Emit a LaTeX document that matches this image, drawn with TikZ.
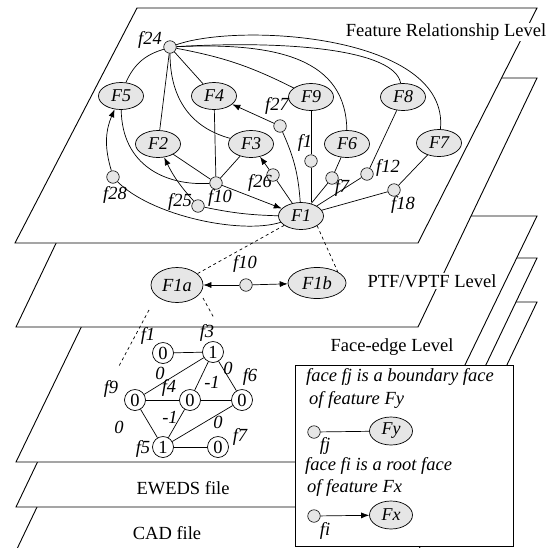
\documentclass[tikz,border=0pt]{standalone}
\usepackage{fontspec}
\setmainfont{Liberation Serif}
\usetikzlibrary{arrows.meta}
\usetikzlibrary{shapes.geometric}
\usetikzlibrary{math}
\definecolor{fgray}{RGB}{230,230,230}

\begin{document}
\begin{tikzpicture}[x=1pt,y=-1pt,
  font=\fontsize{18.5}{21}\selectfont,
  layer/.style={draw,fill=white,line width=0.9pt},
  feat/.style={ellipse,draw,fill=fgray,line width=0.7pt,minimum width=45pt,minimum height=27pt,inner sep=0pt,font=\fontsize{18}{20}\selectfont\itshape},
  face/.style={circle,draw,fill=fgray,line width=0.6pt,minimum size=12.5pt,inner sep=0pt},
  fnum/.style={circle,draw,fill=white,line width=0.7pt,minimum size=21pt,inner sep=0pt},
  lbl/.style={inner sep=0pt,font=\fontsize{18.5}{21}\selectfont\itshape},
  link/.style={line width=0.7pt},
  arr/.style={line width=0.7pt,-{Latex[length=8pt,width=6pt]}},
]
\tikzmath{
\xl = 16;
\xr = 418;
\dx = 119;
}
\useasboundingbox (0,0) rectangle (554,547);

% layers, back to front
\filldraw[layer] (\xl,551) -- (\xl+\dx,302) -- (\xr+\dx,302) -- (\xr,551) -- cycle;
\filldraw[layer] (\xl,507) -- (\xl+\dx,258) -- (\xr+\dx,258) -- (\xr,507) -- cycle;
\filldraw[layer] (\xl,462) -- (\xl+\dx,216) -- (\xr+\dx,216) -- (\xr,462) -- cycle;
\filldraw[layer] (\xl,327) -- (\xl+\dx,78) -- (\xr+\dx,78) -- (\xr,327) -- cycle;
\filldraw[layer] (15,243) -- (137,8) -- (537,8) -- (\xr,243) -- cycle;

\node[fill=white,inner sep=1pt] (lvlfr) at (446,32) {Feature Relationship Level};
\node[fill=white,inner sep=1pt] (lvlptf) at (432,281) {PTF/VPTF Level};
\node (lvlfe) at (392,347) {Face-edge Level};
\node (lvlew) at (183,488) {EWEDS file};
\node (lvlcad) at (167,533) {CAD file};

% feature relationship level
\node[feat] (F5) at (121,96) {F5};
\node[feat] (F4) at (214,96) {F4};
\node[feat] (F9) at (311,97) {F9};
\node[feat] (F8) at (403,97) {F8};
\node[feat] (F2) at (158,144) {F2};
\node[feat] (F3) at (251,144) {F3};
\node[feat] (F6) at (347,144) {F6};
\node[feat] (F7) at (439,143) {F7};
\node[feat] (F1) at (301,216) {F1};

\node[face] (f24) at (170,47) {};
\node[face] (f27) at (280,126) {};
\node[face] (f1) at (311,161) {};
\node[face] (f7) at (332,178) {};
\node[face] (f12) at (367,174) {};
\node[face] (f18) at (394,190) {};
\node[face] (f26) at (273,175) {};
\node[face] (f10) at (216,183) {};
\node[face] (f25) at (198,206) {};
\node[face] (f28) at (113,177) {};

\node[lbl] (l24) at (150,40) {f24};
\node[lbl] (l27) at (277,106) {f27};
\node[lbl] (l1) at (305,143) {f1};
\node[lbl] (l7) at (342,188) {f7};
\node[lbl] (l12) at (388,168) {f12};
\node[lbl] (l18) at (403,205) {f18};
\node[lbl] (l26) at (260,183) {f26};
\node[lbl] (l10) at (220,198) {f10};
\node[lbl] (l25) at (180,202) {f25};
\node[lbl] (l28) at (115,195) {f28};

\draw[link] (f24) to[bend right=25] (F5);
\draw[link] (f24) -- (F2);
\draw[link] (f24) .. controls (170,100) and (192,128) .. (F3);
\draw[link] (f24) -- (F4);
\draw[link] (f24) to[bend left=8] (F9);
\draw[link] (f24) .. controls (280,42) and (346,60) .. (F6);
\draw[link] (f24) .. controls (290,40) and (395,50) .. (F8);
\draw[link] (f24) .. controls (240,22) and (450,35) .. (F7);

\draw[link] (F5) .. controls (122,165) and (165,186) .. (f10);
\draw[link] (F4) -- (f10);
\draw[link] (F2) -- (f10);
\draw[link] (F3) -- (f10);
\draw[arr] (f10) -- (F1);
\draw[arr] (f25) to[bend left=8] (F2);
\draw[link] (f25) to[bend right=5] (F1);
\draw[arr] (f28) to[bend left=20] (F5);
\draw[link] (f28) .. controls (150,215) and (240,235) .. (F1);
\draw[arr] (f26) -- (F3);
\draw[link] (f26) -- (F1);
\draw[arr] (f27) -- (F4);
\draw[link] (f27) to[bend left=10] (F1);
\draw[link] (F9) -- (f1);
\draw[link] (f1) -- (f1 |- F1.north);
\draw[link] (F6) -- (f7);
\draw[link] (f7) -- (F1);
\draw[link] (F8) -- (f12);
\draw[link] (f12) -- (F1);
\draw[link] (F7) -- (f18);
\draw[link] (f18) -- (F1);

% PTF/VPTF level
\node[feat,minimum width=52pt,minimum height=35pt,font=\fontsize{18.5}{21}\selectfont\itshape] (F1a) at (177,285) {F1a};
\node[feat,minimum width=58pt,minimum height=31pt,font=\fontsize{18.5}{21}\selectfont\itshape] (F1b) at (317,283) {F1b};
\node[face] (g10) at (246,285) {};
\node[lbl] (lg10) at (245,264) {f10};
\draw[arr] (g10) -- (F1a);
\draw[arr] (g10) -- (F1b);
\draw[link,dashed] (F1) -- (F1a);
\draw[link,dashed] (F1.south east) -- (F1b.north east);

\coordinate (pa) at (149,310);
\coordinate (pb) at (119,366);
\coordinate (pc) at (203,298);
\coordinate (pd) at (214,318);
\draw[link,dashed] (pa) -- (pb);
\draw[link,dashed] (pc) -- (pd);

% face-edge level
\node[fnum] (e1) at (163,353) {0};
\node[fnum] (e3) at (213,352) {1};
\node[fnum] (e9) at (135,400) {0};
\node[fnum] (e4) at (190,400) {0};
\node[fnum] (e6) at (242,400) {0};
\node[fnum] (e5) at (163,447) {1};
\node[fnum] (e7) at (218,447) {0};

\draw[link] (e1) -- (e3);
\draw[link] (e3) -- (e9);
\draw[link] (e3) -- (e4);
\draw[link] (e3) -- (e6);
\draw[link] (e9) -- (e4);
\draw[link] (e4) -- (e6);
\draw[link] (e9) -- (e5);
\draw[link] (e4) -- (e5);
\draw[link] (e6) -- (e5);
\draw[link] (e5) -- (e7);

\node[lbl] (w39) at (160,373) {0};
\node[lbl] (w34) at (212,382) {-1};
\node[lbl] (w36) at (228,368) {0};
\node[lbl] (w95) at (119,427) {0};
\node[lbl] (w45) at (170,417) {-1};
\node[lbl] (w65) at (218,422) {0};

\node[lbl] (le1) at (148,336) {f1};
\node[lbl] (le3) at (207,333) {f3};
\node[lbl] (le9) at (111,389) {f9};
\node[lbl] (le4) at (169,388) {f4};
\node[lbl] (le6) at (250,377) {f6};
\node[lbl] (le5) at (143,449) {f5};
\node[lbl] (le7) at (240,437) {f7};

% legend
\draw[line width=0.9pt,fill=white] (295,365) rectangle (513,546);
\node[lbl,anchor=west] (t1) at (306,377) {face fj is a boundary face};
\node[lbl,anchor=west] (t2) at (309,400) {of feature Fy};
\node[face] (kj) at (314,432) {};
\node[feat,minimum width=43pt,minimum height=28pt] (Fy) at (391,431) {Fy};
\node[lbl] (lkj) at (325,446) {fj};
\draw[link] (kj) -- (Fy);
\node[lbl,anchor=west] (t3) at (305,466) {face fi is a root face};
\node[lbl,anchor=west] (t4) at (307,488) {of feature Fx};
\node[face] (ki) at (314,516) {};
\node[feat,minimum width=43pt,minimum height=28pt] (Fx) at (391,515) {Fx};
\node[lbl] (lki) at (325,531) {fi};
\draw[arr] (ki) -- (Fx);

\end{tikzpicture}
\end{document}
